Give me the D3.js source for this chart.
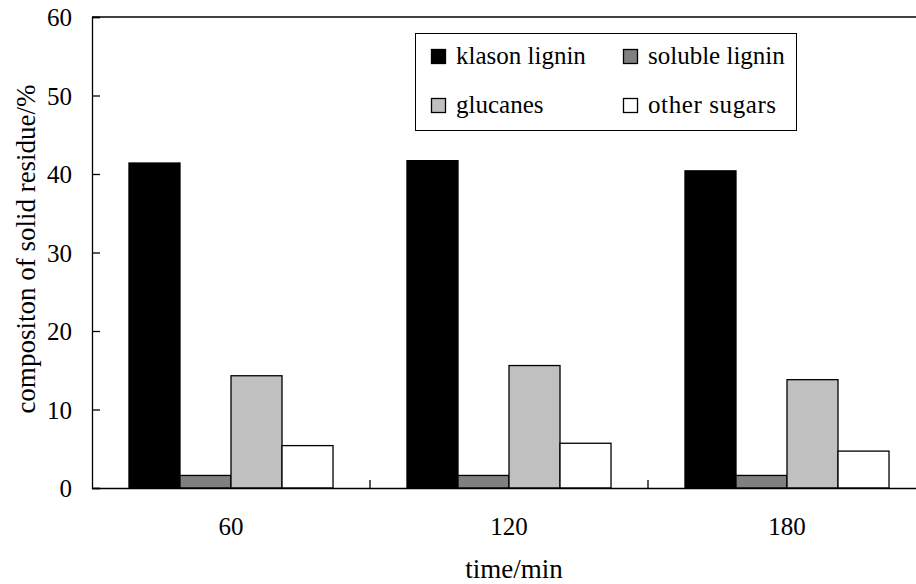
<!DOCTYPE html>
<html><head><meta charset="utf-8">
<script src="https://cdn.jsdelivr.net/npm/d3@7"></script>
<style>body{margin:0;background:#fff}svg{display:block}svg text{font-family:"Liberation Serif","Times New Roman",Times,"DejaVu Serif",serif !important}</style>
</head><body><svg id="c" width="916" height="584"></svg>
<script>
const categories = ["60", "120", "180"];
const seriesNames = ["klason lignin", "soluble lignin", "glucanes", "other sugars"];
const klason = [41.4, 41.7, 40.4];
const soluble = [1.6, 1.6, 1.6];
const glucanes = [14.3, 15.6, 13.8];
const otherSugars = [5.4, 5.7, 4.7];
const yTicks = [0, 10, 20, 30, 40, 50, 60];
const colors = ["#000000", "#808080", "#c0c0c0", "#ffffff"];
const series = [klason, soluble, glucanes, otherSugars];

(function () {
const FONT = '"Liberation Serif","Times New Roman",Times,"DejaVu Serif",serif';
const svg = d3.select("#c");
const mLeft = 92, mTop = 17, mBottom = 488, mRight = 926;
const x = d3.scaleBand().domain(categories).range([mLeft, mRight]).paddingInner(0).paddingOuter(0);
const x1 = d3.scaleBand().domain(seriesNames).range([0, x.bandwidth()]).paddingOuter(0.725).paddingInner(0);
const y = d3.scaleLinear().domain([0, 60]).range([mBottom, mTop]);

// bars
categories.forEach((c, i) => {
  series.forEach((s, j) => {
    svg.append("rect")
      .attr("x", x(c) + x1(seriesNames[j]))
      .attr("y", y(s[i]))
      .attr("width", x1.bandwidth())
      .attr("height", y(0) - y(s[i]))
      .attr("fill", colors[j])
      .attr("stroke", "#000").attr("stroke-width", 1.3);
  });
});

// top border
svg.append("line").attr("x1", mLeft).attr("x2", 916).attr("y1", y(60)).attr("y2", y(60)).attr("stroke", "#000").attr("stroke-width", 1.3);

// y axis
const yAxis = d3.axisLeft(y).tickValues(yTicks).tickSize(-8).tickPadding(20).tickFormat(d3.format("d"));
const gy = svg.append("g").attr("transform", `translate(${mLeft},0)`).call(yAxis).attr("font-family", FONT);
gy.select(".domain").attr("stroke", "#000").attr("stroke-width", 1.3);
gy.selectAll(".tick line").attr("stroke", "#000").attr("stroke-width", 1.3);
gy.selectAll("text").attr("font-size", 25).attr("fill", "#000").attr("dy", "0.34em");

// x axis
const xAxis = d3.axisBottom(x).tickSize(0).tickPadding(0);
const gx = svg.append("g").attr("transform", `translate(0,${mBottom})`).call(xAxis).attr("font-family", FONT);
gx.select(".domain").attr("stroke", "#000").attr("stroke-width", 1.3);
gx.selectAll("text").attr("font-size", 25).attr("fill", "#000").attr("dy", "0").attr("y", 47);
categories.slice(1).forEach(c => {
  svg.append("line").attr("x1", x(c)).attr("x2", x(c)).attr("y1", mBottom).attr("y2", mBottom - 8).attr("stroke", "#000").attr("stroke-width", 1.3);
});

// axis titles
svg.append("text").attr("x", x("120") + x.bandwidth() / 2 + 5).attr("y", 578).attr("text-anchor", "middle").attr("font-size", 27).attr("font-family", FONT).text("time/min");
svg.append("text").attr("transform", `translate(35,249) rotate(-90)`).attr("text-anchor", "middle").attr("font-size", 27).attr("font-family", FONT).text("compositon of solid residue/%");

// legend
const lg = svg.append("g").attr("font-family", FONT);
lg.append("rect").attr("x", 415.5).attr("y", 33.5).attr("width", 381).attr("height", 97).attr("fill", "#fff").attr("stroke", "#000").attr("stroke-width", 1);
const pos = [[431, 64], [623, 64], [431, 113], [623, 113]];
seriesNames.forEach((n, j) => {
  lg.append("rect").attr("x", pos[j][0] + 0.5).attr("y", pos[j][1] - 14.5).attr("width", 14).attr("height", 14).attr("fill", colors[j]).attr("stroke", "#000").attr("stroke-width", 1.3);
  lg.append("text").attr("x", pos[j][0] + 25).attr("y", pos[j][1]).attr("font-size", 25).attr("letter-spacing", j === 3 ? 0.6 : 0).text(n);
});
})();
</script></body></html>
